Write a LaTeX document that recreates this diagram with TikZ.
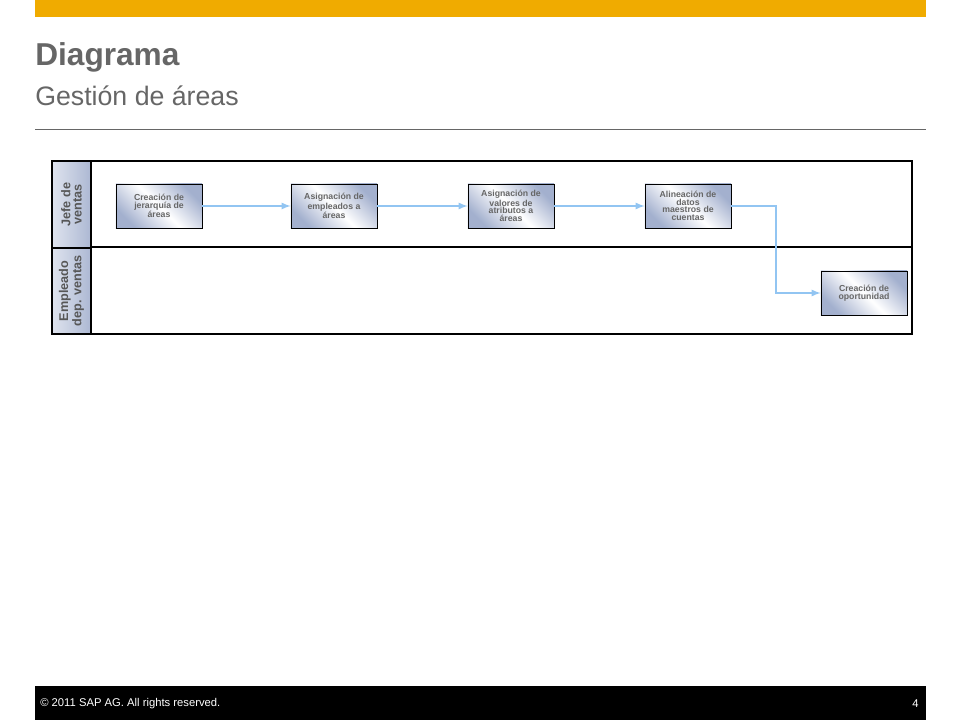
\documentclass[tikz,border=0pt]{standalone}
\usepackage{fontspec}
\setmainfont{Liberation Sans}
\usepackage{tikz}
\usetikzlibrary{arrows,positioning,calc}

\definecolor{sapgold}{HTML}{F0AB00}
\definecolor{titlegray}{HTML}{666666}
\definecolor{boxblue}{HTML}{A3B0CE}
\definecolor{flowblue}{HTML}{92C5F2}

\begin{document}
\begin{tikzpicture}[x=0.025cm, y=-0.025cm, >=latex,
  task/.style={rectangle, draw=black, line width=0.5pt, minimum width=2.15cm, minimum height=1.1cm,
    top color=boxblue, bottom color=boxblue, middle color=white, shading angle=-45,
    align=center, inner sep=1pt, font=\fontsize{6.2}{5.4}\selectfont\bfseries, text=titlegray},
  flow/.style={->, draw=flowblue, line width=1.2pt},
  lanehead/.style={rectangle, draw=black, line width=1.4pt, left color=boxblue!35, right color=boxblue!90,
    minimum width=0.975cm, anchor=north west},
  lanetext/.style={rotate=90, align=center, text=titlegray!85!black, font=\fontsize{9}{8}\selectfont\bfseries}]
\useasboundingbox (0,0) rectangle (960,720);

% header
\fill[sapgold] (35,0) rectangle (926,17);
\node[anchor=base west, inner sep=0, text=titlegray, font=\fontsize{22.5}{22.5}\selectfont\bfseries, name=title] at (35,66) {Diagrama};
\node[anchor=base west, inner sep=0, text=titlegray, font=\fontsize{19}{19}\selectfont, name=subtitle] at (35,106) {Gestión de áreas};
\draw[titlegray, line width=0.7pt] (35,129) -- (926,129);

% swimlanes
\node[rectangle, draw, line width=1.4pt, minimum width=21.5cm, minimum height=4.325cm, anchor=north west, name=pool] at (51,160) {};
\draw[line width=1.4pt] (51,247) -- (pool.east |- 0,247);
\node[lanehead, minimum height=2.175cm, name=lane_jefe] at (51,160) {};
\node[lanehead, minimum height=2.15cm, name=lane_emp] at (51,247) {};
\node[lanetext] at (lane_jefe) {Jefe de\\ventas};
\node[lanetext] at (lane_emp) {Empleado\\dep. ventas};

% tasks
\node[task, name=crea_jer] at (159,206) {Creación de\\jerarquía de\\áreas};
\node[task, name=asig_emp] at (334,206) {Asignación de\\empleados a\\áreas};
\node[task, name=asig_val] at (511,206) {Asignación de\\valores de\\atributos a\\áreas};
\node[task, name=alin_dat] at (688,206) {Alineación de\\datos\\maestros de\\cuentas};
\node[task, name=crea_opo] at (864,293) {Creación de\\oportunidad};

% flows
\draw[flow] (crea_jer) -- (asig_emp);
\draw[flow] (asig_emp) -- (asig_val);
\draw[flow] (asig_val) -- (alin_dat);
\coordinate (bend) at (776,206);
\draw[flow] (alin_dat.east) -- (bend) |- (crea_opo.west);

% footer
\fill[black] (35,686) rectangle (926,720);
\node[anchor=west, text=white, inner sep=0, font=\fontsize{8}{8}\selectfont, name=copyright] at (40,704) {© 2011 SAP AG. All rights reserved.};
\node[anchor=east, text=white, inner sep=0, font=\fontsize{8}{8}\selectfont, name=pagenum] at (919,704) {4};
\end{tikzpicture}
\end{document}
